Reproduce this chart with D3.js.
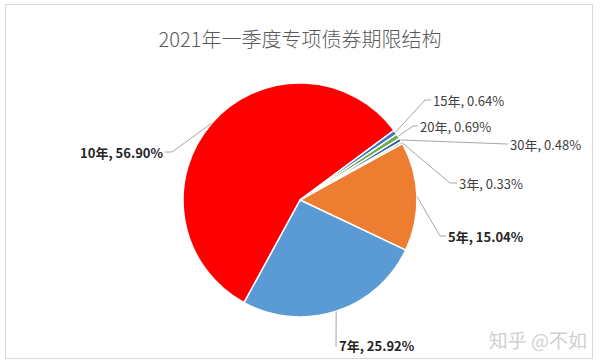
<!DOCTYPE html>
<html>
<head>
<meta charset="utf-8">
<script src="https://cdn.jsdelivr.net/npm/d3@7"></script>
<style>
  body { margin: 0; background: #fff; }
  text { font-family: "Noto Sans CJK SC", "Noto Sans", sans-serif; }
</style>
</head>
<body>
<div id="chart"></div>
<script>
// Data
var categories = ["3年", "5年", "7年", "10年", "15年", "20年", "30年"];
var shares = [0.33, 15.04, 25.92, 56.90, 0.64, 0.69, 0.48];
var sliceColors = ["#a5a5a5", "#ed7d31", "#5b9bd5", "#ff0000", "#4472c4", "#70ad47", "#255e91"];
var boldLabels = ["5年", "7年", "10年"];
var title = "2021年一季度专项债券期限结构";

var svgWidth = 600;
var svgHeight = 363;

var svg = d3.select("#chart")
  .append("svg")
  .attr("width", svgWidth)
  .attr("height", svgHeight);

// chart frame
svg.append("rect")
  .attr("x", 5.5)
  .attr("y", 4.5)
  .attr("width", 587)
  .attr("height", 354)
  .attr("fill", "#fff")
  .attr("stroke", "#d9d9d9");

svg.append("text")
  .attr("x", 300)
  .attr("y", 38)
  .attr("text-anchor", "middle")
  .attr("dominant-baseline", "central")
  .style("font-size", "20px")
  .style("font-weight", 300)
  .style("fill", "#595959")
  .text(title);

var cx = 300, cy = 200, radius = 117;
var firstAngle = 60 * Math.PI / 180;

var data = categories.map(function(c, i) {
  return { name: c, value: shares[i], color: sliceColors[i] };
});

var pie = d3.pie()
  .sort(null)
  .value(d => d.value)
  .startAngle(firstAngle)
  .endAngle(firstAngle + 2 * Math.PI);

var arc = d3.arc().innerRadius(0).outerRadius(radius);

var pieGroup = svg.append("g")
  .attr("transform", `translate(${cx}, ${cy})`);

var arcs = pie(data);

pieGroup.selectAll("path")
  .data(arcs)
  .enter()
  .append("path")
  .attr("d", arc)
  .attr("fill", d => d.data.color)
  .attr("stroke", "#fff")
  .attr("stroke-width", 1.5);

// label layout: text anchor point and elbow of the leader line
var labelLayout = {
  "15年": { tx: 433, ty: 100, ex: 425, anchor: "start" },
  "20年": { tx: 420, ty: 126, ex: 413, anchor: "start" },
  "30年": { tx: 510, ty: 144, ex: 507, anchor: "start" },
  "3年":  { tx: 459, ty: 183, ex: 450, anchor: "start" },
  "5年":  { tx: 448, ty: 236, ex: 440, anchor: "start" },
  "7年":  { tx: 339, ty: 345, ex: 336, anchor: "start" },
  "10年": { tx: 163, ty: 152, ex: 172, anchor: "end" }
};

function edgePoint(d) {
  var a = (d.startAngle + d.endAngle) / 2;
  return [cx + Math.sin(a) * radius, cy - Math.cos(a) * radius];
}

var labels = svg.append("g");

arcs.forEach(function(d) {
  var L = labelLayout[d.data.name];
  var p = edgePoint(d);
  var endX = L.anchor === "start" ? L.tx - 2 : L.tx + 2;
  var pts = [p, [L.ex, L.ty], [endX, L.ty]];
  if (d.data.name === "7年") {
    pts = [p, [L.ex, L.ty + 2]];
  }
  labels.append("path")
    .attr("d", d3.line()(pts))
    .attr("fill", "none")
    .attr("stroke", "#a6a6a6")
    .attr("stroke-width", 1);

  var bold = boldLabels.indexOf(d.data.name) >= 0;
  labels.append("text")
    .attr("x", L.tx)
    .attr("y", L.ty)
    .attr("text-anchor", L.anchor)
    .attr("dominant-baseline", "central")
    .style("font-size", "13px")
    .style("font-weight", bold ? "bold" : "normal")
    .style("fill", bold ? "#262626" : "#404040")
    .text(d.data.name + ", " + d3.format(".2f")(d.data.value) + "%");
});

// watermark
svg.append("text")
  .attr("x", 587)
  .attr("y", 339)
  .attr("text-anchor", "end")
  .attr("dominant-baseline", "central")
  .style("font-size", "19px")
  .style("fill", "#d0d0d0")
  .text("知乎 @不如");
</script>
</body>
</html>
